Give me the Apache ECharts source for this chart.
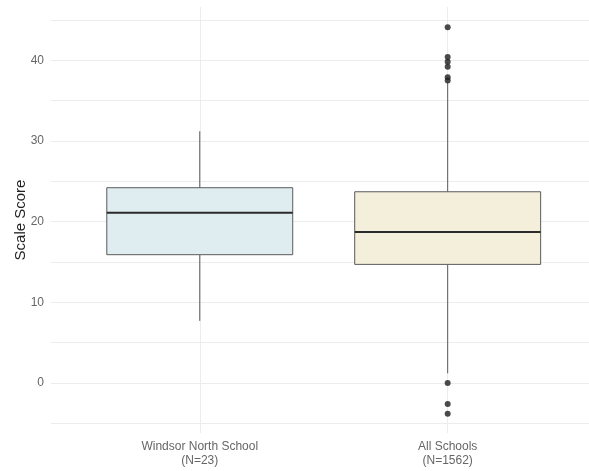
<!DOCTYPE html>
<html>
<head>
<meta charset="utf-8">
<script src="https://cdn.jsdelivr.net/npm/echarts@6/dist/echarts.min.js"></script>
<style>
  html, body { margin: 0; padding: 0; background: #fff; }
  #chart { width: 589px; height: 471px; }
</style>
</head>
<body>
<div id="chart"></div>
<script>
// Groups shown along the x axis
const categories = ['Windsor North School\n(N=23)', 'All Schools\n(N=1562)'];
// Five-number summaries: [lower whisker, Q1, median, Q3, upper whisker]
const windsorStats = [7.7, 15.9, 21.1, 24.2, 31.2];
const allSchoolsStats = [1.2, 14.7, 18.7, 23.7, 37.2];
// Points beyond the whiskers
const windsorOutliers = [];
const allSchoolsOutliers = [44.1, 40.4, 39.8, 39.2, 37.9, 37.5, 0.0, -2.6, -3.8];
// Y axis ticks
const yLabelTicks = [0, 10, 20, 30, 40];
const yGridTicks = [-5, 0, 5, 10, 15, 20, 25, 30, 35, 40, 45];

const fills = ['#dfedf0', '#f3efdb'];
const BOX_HALF = 0.375; // half box width in x units

const boxData = [windsorStats, allSchoolsStats].map((s, i) => [i + 1].concat(s));
const outlierData = []
  .concat(windsorOutliers.map(v => [1, v]))
  .concat(allSchoolsOutliers.map(v => [2, v]));

// Box, whiskers and median drawn with the chart's own coordinate mapping
function renderBox(params, api) {
  const x = api.value(0);
  const lo = api.value(1), q1 = api.value(2), med = api.value(3), q3 = api.value(4), hi = api.value(5);
  const pTopLeft = api.coord([x - BOX_HALF, q3]);
  const pBotRight = api.coord([x + BOX_HALF, q1]);
  const cHi = api.coord([x, hi]);
  const cQ3 = api.coord([x, q3]);
  const cQ1 = api.coord([x, q1]);
  const cLo = api.coord([x, lo]);
  const mL = api.coord([x - BOX_HALF, med]);
  const mR = api.coord([x + BOX_HALF, med]);
  const lineStyle = { stroke: '#5a5a5a', lineWidth: 1 };
  return {
    type: 'group',
    children: [
      { type: 'line', shape: { x1: cHi[0], y1: cHi[1], x2: cQ3[0], y2: cQ3[1] }, style: lineStyle },
      { type: 'line', shape: { x1: cQ1[0], y1: cQ1[1], x2: cLo[0], y2: cLo[1] }, style: lineStyle },
      {
        type: 'rect',
        shape: {
          x: pTopLeft[0], y: pTopLeft[1],
          width: pBotRight[0] - pTopLeft[0], height: pBotRight[1] - pTopLeft[1]
        },
        style: { fill: fills[params.dataIndex], stroke: '#5a5a5a', lineWidth: 1 }
      },
      { type: 'line', shape: { x1: mL[0], y1: mL[1], x2: mR[0], y2: mR[1] }, style: { stroke: '#2a2a2a', lineWidth: 2 } }
    ]
  };
}

const chart = echarts.init(document.getElementById('chart'), null, { renderer: 'canvas' });
chart.setOption({
  animation: false,
  backgroundColor: '#ffffff',
  grid: { left: 51, right: 0, top: 7, bottom: 38 },
  xAxis: {
    type: 'value',
    min: 0.4,
    max: 2.57,
    axisLine: { show: false },
    axisTick: { show: false, customValues: [1, 2] },
    axisLabel: {
      customValues: [1, 2],
      formatter: v => categories[Math.round(v) - 1] || '',
      color: '#666666',
      fontFamily: 'Liberation Sans, Arial, sans-serif',
      fontSize: 12,
      lineHeight: 14,
      margin: 7
    },
    splitLine: { show: true, lineStyle: { color: '#ececec', width: 1 } }
  },
  yAxis: {
    type: 'value',
    min: -6.2,
    max: 46.6,
    name: 'Scale Score',
    nameLocation: 'middle',
    nameGap: 23,
    nameMoveOverlap: false,
    nameTextStyle: {
      color: '#222222',
      fontFamily: 'Liberation Sans, Arial, sans-serif',
      fontSize: 15
    },
    axisLine: { show: false },
    axisTick: { show: false, customValues: yGridTicks },
    axisLabel: {
      customValues: yLabelTicks,
      color: '#666666',
      fontFamily: 'Liberation Sans, Arial, sans-serif',
      fontSize: 12,
      margin: 7
    },
    splitLine: { show: true, lineStyle: { color: '#ececec', width: 1 } }
  },
  series: [
    {
      type: 'custom',
      data: boxData,
      renderItem: renderBox,
      encode: { x: 0, y: [1, 2, 3, 4, 5] },
      z: 2
    },
    {
      type: 'scatter',
      data: outlierData,
      symbol: 'circle',
      symbolSize: 6,
      itemStyle: { color: '#1e1e1e' },
      z: 3
    }
  ]
});
</script>
</body>
</html>
